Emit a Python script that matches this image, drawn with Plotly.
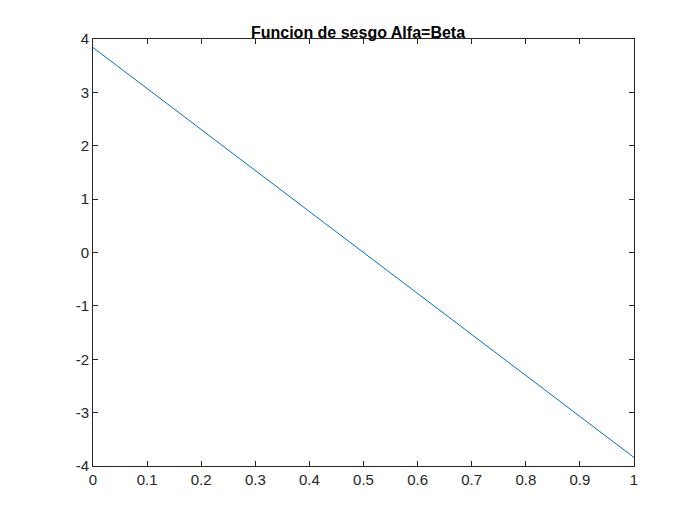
import plotly.graph_objects as go

x_vals = [0, 1]
y_vals = [3.84, -3.84]
x_ticks = [0, 0.1, 0.2, 0.3, 0.4, 0.5, 0.6, 0.7, 0.8, 0.9, 1]
y_ticks = [-4, -3, -2, -1, 0, 1, 2, 3, 4]
title = "<b>Funcion de sesgo Alfa=Beta</b>"

fig = go.Figure(go.Scatter(x=x_vals, y=y_vals, mode="lines",
                           line=dict(color="#0072BD", width=1)))
ax = dict(showline=True, mirror="ticks", linecolor="#262626", linewidth=1,
          ticks="inside", ticklen=5, tickcolor="#262626", showgrid=False,
          zeroline=False, tickfont=dict(family="Liberation Sans, Arial", size=15, color="#262626"))
fig.update_layout(
    width=700, height=525, paper_bgcolor="white", plot_bgcolor="white",
    margin=dict(l=85, r=74, t=31, b=67), showlegend=False,
    title=dict(text=title, x=0.5, xanchor="center", y=1 - 24/525, yanchor="middle",
               font=dict(family="Liberation Sans, Arial", size=16, color="black")),
    xaxis=dict(range=[0, 1], tickvals=x_ticks, ticktext=[str(v) for v in x_ticks], **ax),
    yaxis=dict(range=[-4, 4], tickvals=y_ticks, ticktext=[str(v) for v in y_ticks], **ax),
)
fig.write_html("out.html")
